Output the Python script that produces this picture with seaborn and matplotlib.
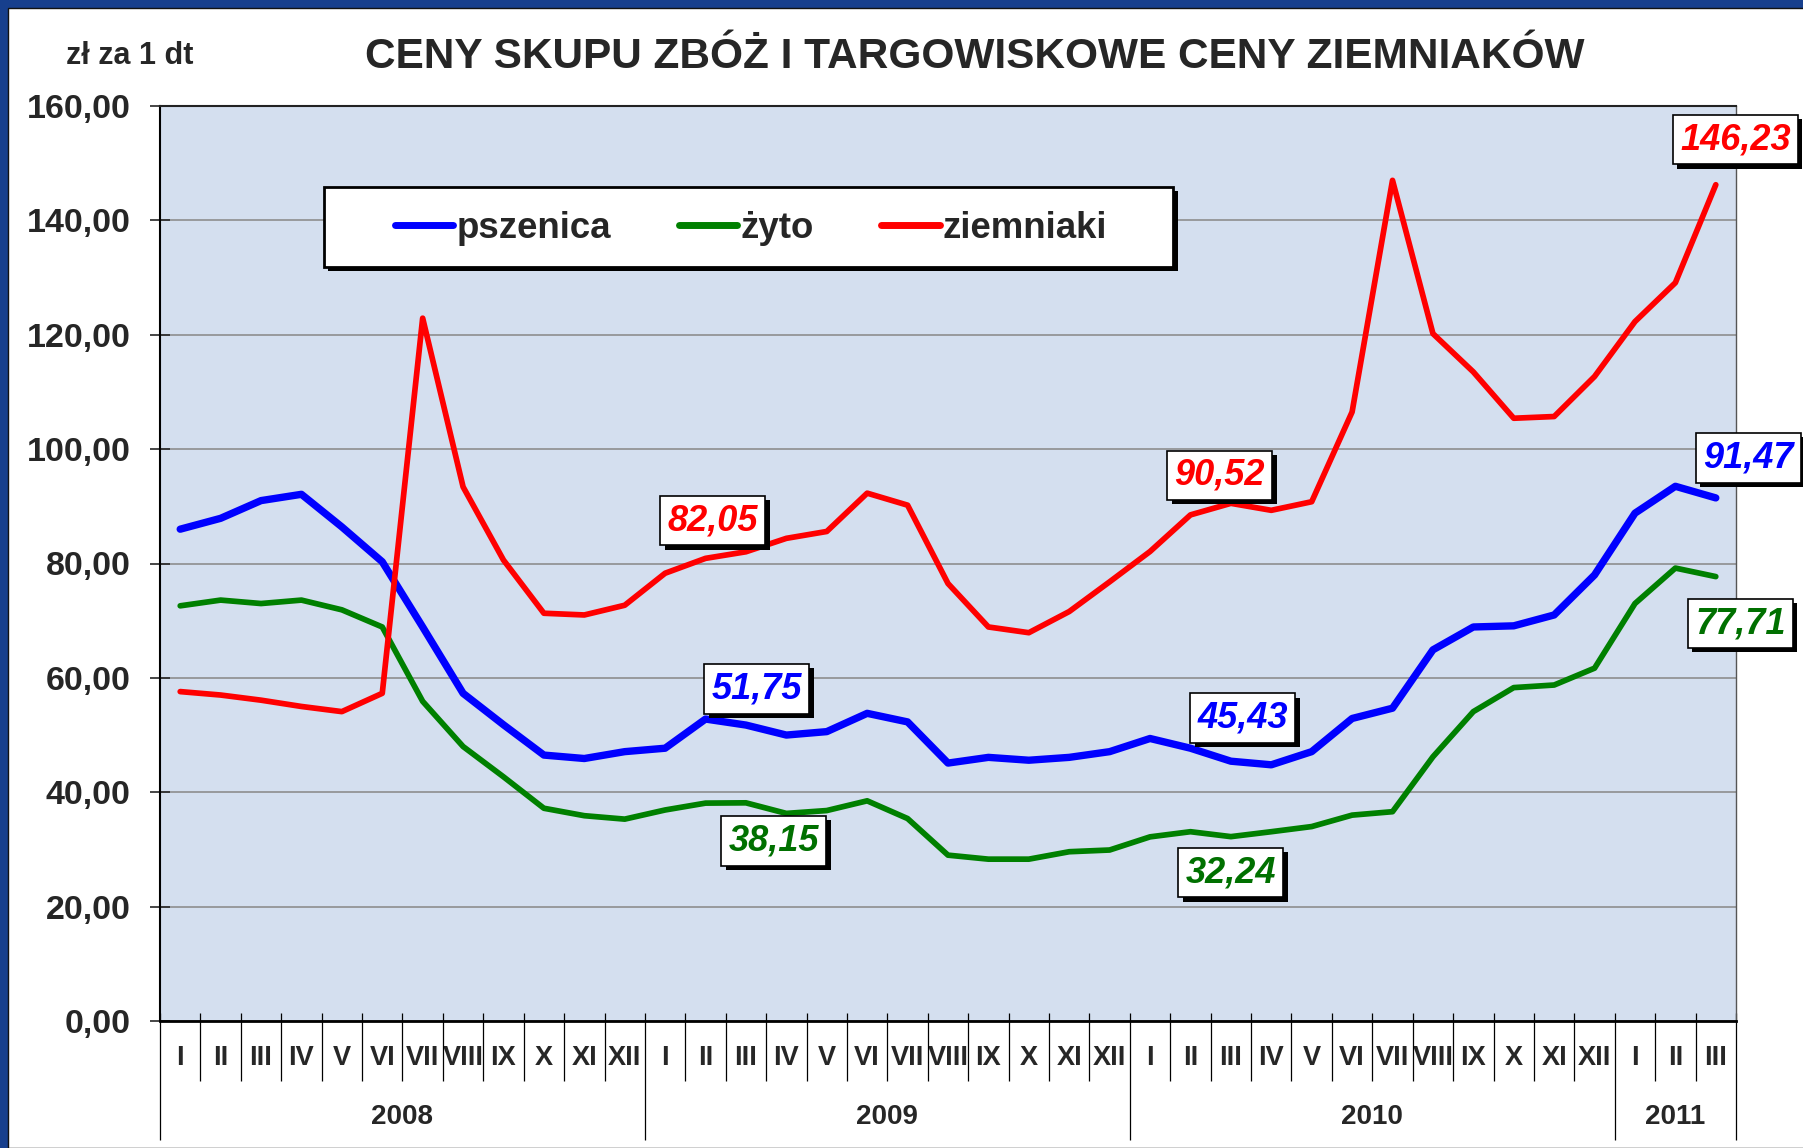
import matplotlib.patheffects as pe
import matplotlib.pyplot as plt
import numpy as np
import pandas as pd
import seaborn as sns
from matplotlib.lines import Line2D
from matplotlib.patches import Rectangle

# --- DATA (zł za 1 dt, monthly, I 2008 - III 2011) ---
MONTHS = ["I", "II", "III", "IV", "V", "VI", "VII", "VIII", "IX", "X", "XI", "XII"]
YEARS = ["2008", "2009", "2010", "2011"]
YEAR_LENGTHS = [12, 12, 12, 3]
TICK_LABELS = MONTHS * 3 + MONTHS[:3]

SERIES = ["pszenica", "żyto", "ziemniaki"]

PSZENICA = [
    86.0, 87.9, 91.0, 92.1, 86.4, 80.3, 68.9, 57.3, 51.8, 46.5, 45.9, 47.1,
    47.7, 52.8, 51.75, 50.0, 50.6, 53.8, 52.3, 45.1, 46.1, 45.6, 46.1, 47.1,
    49.4, 47.7, 45.43, 44.8, 47.1, 52.9, 54.7, 64.9, 68.9, 69.1, 71.0, 78.0,
    88.8, 93.5, 91.47,
]
ZYTO = [
    72.6, 73.6, 73.0, 73.6, 71.9, 68.9, 55.9, 48.0, 42.7, 37.2, 35.9, 35.3,
    36.9, 38.1, 38.15, 36.3, 36.8, 38.5, 35.4, 29.0, 28.3, 28.3, 29.6, 29.9,
    32.2, 33.1, 32.24, 33.1, 34.0, 36.0, 36.6, 46.2, 54.1, 58.3, 58.75, 61.7,
    73.0, 79.2, 77.71,
]
ZIEMNIAKI = [
    57.6, 57.0, 56.1, 55.0, 54.1, 57.3, 122.9, 93.4, 80.6, 71.3, 71.0, 72.7,
    78.3, 80.9, 82.05, 84.4, 85.6, 92.3, 90.2, 76.5, 68.9, 67.9, 71.6, 76.8,
    82.1, 88.5, 90.52, 89.3, 90.8, 106.5, 147.0, 120.2, 113.5, 105.4, 105.7, 112.7,
    122.3, 129.1, 146.23,
]

# months that carry a value label: III 2009, III 2010, III 2011
LABELLED_MONTHS = [14, 26, 38]
Y_TICKS = [0, 20, 40, 60, 80, 100, 120, 140, 160]

TITLE = "CENY SKUPU ZBÓŻ I TARGOWISKOWE CENY ZIEMNIAKÓW"
UNIT = "zł za 1 dt"

# --- STYLE ---
LINE_COLORS = {"pszenica": "#0000FF", "żyto": "#008000", "ziemniaki": "#FF0000"}
LABEL_COLORS = {"pszenica": "#0000FF", "żyto": "#007000", "ziemniaki": "#FF0000"}
LINE_WIDTHS = {"pszenica": 5.3, "żyto": 4.1, "ziemniaki": 4.1}
PLOT_BG = "#D4DFEF"
FRAME_BLUE = "#173F8D"

# label box offsets (pixels) from the labelled point, per series and month
LABEL_OFFSETS = {
    "pszenica": [(11, 36), (12, 43), (33, 40)],
    "żyto": [(28, -38), (0, -36), (25, -47)],
    "ziemniaki": [(-33, 31), (-11, 28), (20, 45)],
}

W, H = 1803, 1148


def fmt(v):
    return f"{v:.2f}".replace(".", ",")


def main():
    sns.set_style("white")
    plt.rcParams["font.family"] = ["Liberation Sans", "DejaVu Sans"]

    fig = plt.figure(figsize=(W / 100, H / 100), dpi=100)
    fig.patch.set_facecolor(FRAME_BLUE)
    # white slide area inside the blue frame
    fig.add_artist(
        Rectangle(
            (8 / W, 0), 1, 1 - 8 / H, transform=fig.transFigure,
            facecolor="white", edgecolor="#111111", linewidth=1.0, zorder=-5,
        )
    )

    ax = fig.add_axes([160 / W, 127 / H, 1576 / W, 915 / H])
    ax.set_facecolor(PLOT_BG)

    n = len(TICK_LABELS)
    values = {"pszenica": PSZENICA, "żyto": ZYTO, "ziemniaki": ZIEMNIAKI}
    df = pd.DataFrame(
        {
            "miesiac": np.tile(np.arange(n), len(SERIES)),
            "cena": PSZENICA + ZYTO + ZIEMNIAKI,
            "seria": np.repeat(SERIES, n),
        }
    )
    sns.lineplot(
        data=df, x="miesiac", y="cena", hue="seria", hue_order=SERIES,
        palette=LINE_COLORS, legend=False, errorbar=None, ax=ax,
    )
    for line, name in zip(ax.lines, SERIES):
        line.set_linewidth(LINE_WIDTHS[name])
        line.set_solid_capstyle("round")

    # --- AXES ---
    ax.set_xlim(-0.5, n - 0.5)
    ax.set_ylim(0, 160)
    ax.set_xlabel("")
    ax.set_ylabel("")
    ax.set_yticks(Y_TICKS)
    ax.set_yticklabels([fmt(v) for v in Y_TICKS], fontsize=24.5, fontweight="bold")
    ax.tick_params(axis="y", direction="inout", length=15, width=1.2, pad=13.5, left=True)
    ax.set_xticks(range(n))
    ax.set_xticklabels(TICK_LABELS, fontsize=19.5, fontweight="bold")
    ax.tick_params(axis="x", length=0, pad=17)
    ax.yaxis.grid(True, color="#8E8E8E", linewidth=1.2)
    ax.set_axisbelow(True)

    for side, (col, lw) in {
        "left": ("black", 1.5), "bottom": ("black", 2.0),
        "top": ("#222222", 1.5), "right": ("#555555", 1.0),
    }.items():
        ax.spines[side].set_color(col)
        ax.spines[side].set_linewidth(lw)

    # month / year separators below the axis
    trans = ax.get_xaxis_transform()
    year_edges = np.cumsum([0] + YEAR_LENGTHS) - 0.5
    month_edges = [i + 0.5 for i in range(n - 1) if (i + 0.5) not in year_edges]
    ax.vlines(month_edges, -0.066, 0.0087, transform=trans, colors="black",
              linewidth=0.9, clip_on=False)
    ax.vlines(year_edges, -0.130, 0.0087, transform=trans, colors="black",
              linewidth=0.9, clip_on=False)
    for year, start, length in zip(YEARS, year_edges[:-1], YEAR_LENGTHS):
        ax.text(start + length / 2, -0.105, year, transform=trans, ha="center",
                va="center", fontsize=20, fontweight="bold")

    # --- TITLE ---
    fig.text(975 / W, 1 - 68 / H, TITLE, ha="center", va="baseline",
             fontsize=30.5, fontweight="bold")
    fig.text(66 / W, 1 - 64 / H, UNIT, ha="left", va="baseline",
             fontsize=22, fontweight="bold")

    # --- LEGEND (boxed, with shadow) ---
    shadow = [pe.withSimplePatchShadow(offset=(3, -3), shadow_rgbFace="black", alpha=1.0)]
    box = Rectangle(
        (0.104, 0.824), 0.539, 0.0875, transform=ax.transAxes,
        facecolor="white", edgecolor="black", linewidth=2, zorder=5,
    )
    box.set_path_effects(shadow)
    ax.add_patch(box)
    handles = [
        Line2D([], [], color=LINE_COLORS[s], linewidth=5, solid_capstyle="round")
        for s in SERIES
    ]
    leg = ax.legend(
        handles, SERIES, loc="center", bbox_to_anchor=(0.375, 0.866), ncol=3,
        frameon=False, handlelength=1.6, handletextpad=0.08, columnspacing=1.85,
        prop={"size": 26.4, "weight": "bold"},
    )
    leg.set_zorder(6)

    # --- VALUE LABELS ---
    for name in SERIES:
        for idx, offset in zip(LABELLED_MONTHS, LABEL_OFFSETS[name]):
            t = ax.annotate(
                fmt(values[name][idx]), xy=(idx, values[name][idx]),
                xytext=offset, textcoords="offset pixels", ha="center", va="center",
                fontsize=26, fontweight="bold", fontstyle="italic",
                color=LABEL_COLORS[name], zorder=7, annotation_clip=False,
                bbox=dict(boxstyle="square,pad=0.2", facecolor="white",
                          edgecolor="black", linewidth=1.2),
            )
            t.get_bbox_patch().set_path_effects(shadow)

    fig.savefig("out.png", dpi=100)
    plt.close(fig)


if __name__ == "__main__":
    main()
